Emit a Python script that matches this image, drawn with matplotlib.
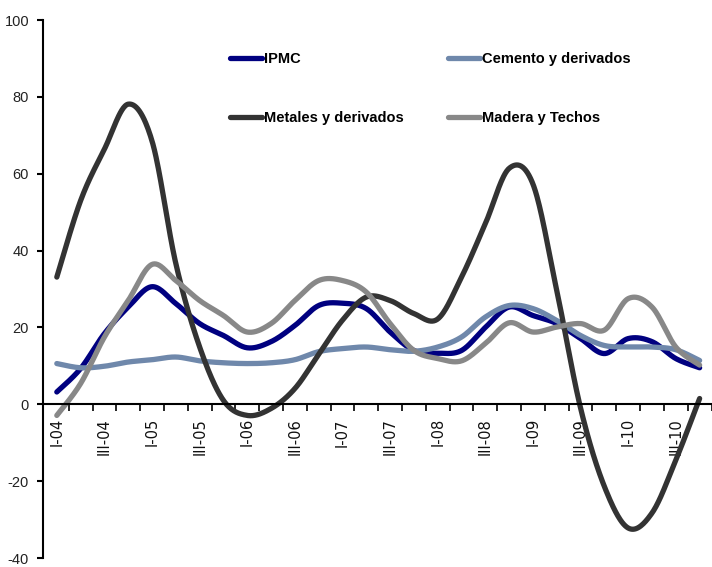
import numpy as np
import matplotlib
matplotlib.use("Agg")
import matplotlib.pyplot as plt

plt.rcParams['font.family'] = ['Liberation Sans', 'DejaVu Sans']
plt.rcParams['axes.unicode_minus'] = False

quarters = ["I-04", "II-04", "III-04", "IV-04", "I-05", "II-05", "III-05", "IV-05",
            "I-06", "II-06", "III-06", "IV-06", "I-07", "II-07", "III-07", "IV-07",
            "I-08", "II-08", "III-08", "IV-08", "I-09", "II-09", "III-09", "IV-09",
            "I-10", "II-10", "III-10", "IV-10"]

ipmc = [3.2, 9.3, 18.4, 25.3, 30.6, 26.2, 21.0, 17.9, 14.7, 16.3, 20.5, 25.7, 26.3, 24.9,
        18.8, 14.0, 13.3, 14.0, 20.0, 25.3, 23.1, 21.0, 17.1, 13.2, 17.1, 16.3, 11.9, 9.5]
cemento = [10.6, 9.5, 9.9, 11.0, 11.6, 12.3, 11.3, 10.8, 10.6, 10.8, 11.6, 13.7, 14.5, 14.9,
           14.2, 13.8, 14.9, 17.5, 22.7, 25.7, 24.9, 21.8, 17.9, 15.3, 14.9, 14.9, 14.2, 11.4]
metales = [33.1, 53.0, 66.4, 78.1, 68.5, 36.6, 14.9, 1.0, -2.9, -1.1, 4.1, 13.0, 21.9, 27.9,
           27.0, 23.6, 22.2, 33.1, 47.0, 61.4, 57.3, 29.6, -1.0, -21.4, -32.2, -28.3, -14.5, 1.5]
madera = [-2.9, 5.4, 17.5, 27.0, 36.4, 32.2, 27.0, 23.1, 18.8, 21.0, 27.0, 32.2, 32.2, 29.2,
          21.0, 14.0, 11.9, 11.3, 15.8, 21.2, 18.8, 20.1, 21.0, 19.3, 27.5, 25.3, 14.9, 10.2]

series = [
    ("IPMC", ipmc, "#000080"),
    ("Cemento y derivados", cemento, "#6f88ab"),
    ("Metales y derivados", metales, "#333333"),
    ("Madera y Techos", madera, "#888888"),
]


def smooth(y, n=30):
    y = np.asarray(y, dtype=float)
    x = np.arange(len(y), dtype=float)
    pts = np.column_stack([x, y])
    out = []
    for i in range(len(pts) - 1):
        p0 = pts[i]
        p3 = pts[i + 1]
        pm = pts[i - 1] if i > 0 else pts[i]
        pp = pts[i + 2] if i + 2 < len(pts) else pts[i + 1]
        c1 = p0 + (p3 - pm) / 6.0
        c2 = p3 - (pp - p0) / 6.0
        t = np.linspace(0, 1, n, endpoint=(i == len(pts) - 2))[:, None]
        b = ((1 - t) ** 3) * p0 + 3 * ((1 - t) ** 2) * t * c1 + 3 * (1 - t) * t ** 2 * c2 + t ** 3 * p3
        out.append(b)
    out = np.vstack(out)
    return out[:, 0], out[:, 1]


fig = plt.figure(figsize=(7.12, 5.67), dpi=100)
ax = fig.add_axes([43 / 712, 1 - 558 / 567, 1 - 43 / 712, (558 - 20) / 567])

handles = {}
for name, vals, col in series:
    sx, sy = smooth(vals)
    ln, = ax.plot(sx, sy, color=col, lw=3.8, solid_capstyle='round', label=name)
    handles[name] = ln

ax.set_ylim(-40, 100)
ax.set_xlim(-0.58, 27.52)
ax.set_yticks(np.arange(-40, 101, 20))
ax.spines['top'].set_visible(False)
ax.spines['right'].set_visible(False)
ax.spines['bottom'].set_position(('data', 0))
ax.spines['left'].set_linewidth(1.5)
ax.spines['bottom'].set_linewidth(1.5)

label_pos = np.arange(0, len(quarters), 2)
ax.set_xticks(label_pos)
ax.set_xticklabels([quarters[i] for i in label_pos], rotation=90, fontsize=10.5,
                   family=['DejaVu Sans'], color='#111111')
ax.set_xticks(np.arange(0.5, len(quarters), 1), minor=True)
ax.tick_params(axis='x', which='major', length=0, pad=10)
ax.tick_params(axis='x', which='minor', length=5, width=1.2, direction='out')
ax.tick_params(axis='y', length=4, width=1.5, direction='out', labelsize=10.5, pad=6,
               labelcolor='#222222')

order = ["IPMC", "Metales y derivados", "Cemento y derivados", "Madera y Techos"]
leg = fig.legend([handles[k] for k in order], order, loc='upper left',
                 bbox_to_anchor=(230 / 712, 1 - 52 / 567), ncol=2,
                 frameon=False, fontsize=10.5, handlelength=2.2, handletextpad=0.12,
                 labelspacing=3.1, columnspacing=3.05, borderpad=0, borderaxespad=0)
for t in leg.get_texts():
    t.set_fontweight('bold')

fig.savefig("out.png", dpi=100)
